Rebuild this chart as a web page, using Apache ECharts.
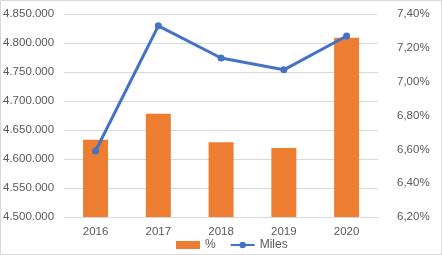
<!DOCTYPE html>
<html><head><meta charset="utf-8">
<script src="https://cdn.jsdelivr.net/npm/echarts@6/dist/echarts.min.js"></script>
<style>html,body{margin:0;padding:0;background:#fff}#c{width:442px;height:255px}</style>
</head><body><div id="c"></div>
<script>
const categories = ['2016','2017','2018','2019','2020'];
const barValues = [4633000, 4678000, 4629000, 4619000, 4809000];
const lineValues = [6.59, 7.33, 7.14, 7.07, 7.27];
const barName = '%';
const lineName = 'Miles';

const font = 'Liberation Sans';
const txt = '#595959';
const fs = 11.5;
const chart = echarts.init(document.getElementById('c'));
chart.setOption({
  animation: false,
  textStyle: {fontFamily: font},
  graphic: [{type:'rect', shape:{x:0.5,y:0.5,width:441,height:254}, style:{fill:'none', stroke:'#d9d9d9', lineWidth:1}, silent:true}],
  grid: {left: 62, right: 64, top: 14, bottom: 38},
  legend: {
    top: 239, left: 176, padding: 0,
    itemWidth: 24, itemHeight: 8, itemGap: 14,
    textStyle: {color: txt, fontSize: 12, fontFamily: font},
    data: [{name: barName, icon: 'rect'}, {name: lineName}]
  },
  xAxis: {
    type: 'category', data: categories,
    axisLine: {lineStyle: {color: '#d9d9d9'}},
    axisTick: {show: false},
    axisLabel: {color: txt, fontSize: fs, margin: 9, fontFamily: font}
  },
  yAxis: [{
    type: 'value', min: 4500000, max: 4850000, interval: 50000,
    axisLine: {show: false}, axisTick: {show: false},
    splitLine: {lineStyle: {color: '#d9d9d9'}},
    axisLabel: {color: txt, fontSize: fs, margin: 10, fontFamily: font,
      formatter: v => String(Math.round(v)).replace(/\B(?=(\d{3})+(?!\d))/g, '.')}
  }, {
    type: 'value', min: 6.2, max: 7.4, interval: 0.2,
    axisLine: {show: false}, axisTick: {show: false},
    splitLine: {show: false},
    axisLabel: {color: txt, fontSize: fs, margin: 19, fontFamily: font,
      formatter: v => v.toFixed(2).replace('.', ',') + '%'}
  }],
  series: [{
    name: barName, type: 'bar', yAxisIndex: 0, data: barValues,
    barWidth: 25, itemStyle: {color: '#ed7d31'}
  }, {
    name: lineName, type: 'line', yAxisIndex: 1, data: lineValues,
    symbol: 'circle', symbolSize: 7,
    lineStyle: {color: '#4472c4', width: 3},
    itemStyle: {color: '#4472c4'}
  }]
});
</script></body></html>
